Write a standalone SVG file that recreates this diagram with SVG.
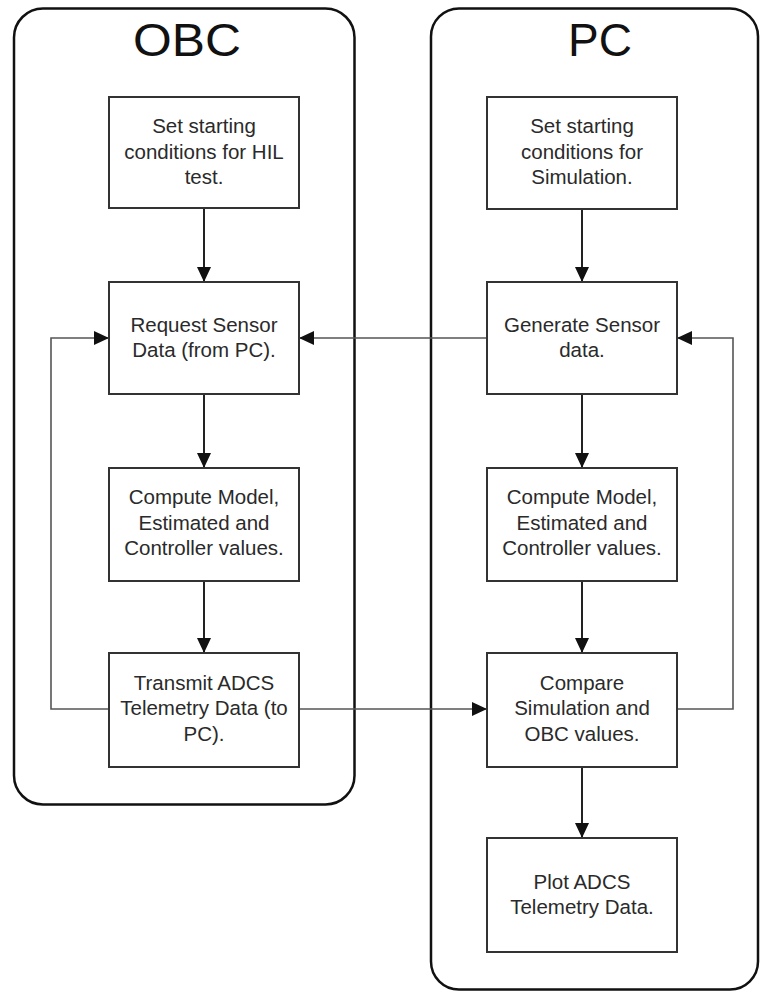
<svg xmlns="http://www.w3.org/2000/svg" width="760" height="992" viewBox="0 0 760 992">
  <defs>
    <marker id="arrow" viewBox="0 0 15 14" refX="15" refY="7" markerWidth="15" markerHeight="14" markerUnits="userSpaceOnUse" orient="auto">
      <path d="M0,0 L15,7 L0,14 z" fill="#111"/>
    </marker>
  </defs>
  <style>
    .lane { fill: #fff; stroke: #111; stroke-width: 2.5; }
    .title { font-family: "Liberation Sans", Arial, sans-serif; font-size: 46px; fill: #111; text-anchor: middle; }
    .box { fill: #fff; stroke: #333; stroke-width: 2; }
    .label { font-family: "Liberation Sans", Arial, sans-serif; font-size: 20.5px; fill: #2a2a2a; text-anchor: middle; }
    .flow { fill: none; stroke: #222; stroke-width: 2; marker-end: url(#arrow); }
    .link { fill: none; stroke: #555; stroke-width: 1.6; marker-end: url(#arrow); }
  </style>

  <rect width="760" height="992" fill="#fff"/>

  <!-- swimlanes -->
  <g id="lane-obc">
    <rect class="lane" x="14" y="8.5" width="340.5" height="796" rx="29" ry="29"/>
    <text class="title" x="187" y="56" textLength="108" lengthAdjust="spacingAndGlyphs">OBC</text>
  </g>
  <g id="lane-pc">
    <rect class="lane" x="431" y="8.5" width="327" height="981" rx="28" ry="28"/>
    <text class="title" x="600" y="56">PC</text>
  </g>

  <!-- connectors -->
  <g id="connectors">
    <path class="flow" d="M204,208 V282"/>
    <path class="flow" d="M204,394 V468"/>
    <path class="flow" d="M204,581 V653"/>
    <path class="flow" d="M582,209 V282"/>
    <path class="flow" d="M582,394 V468"/>
    <path class="flow" d="M582,581 V653"/>
    <path class="flow" d="M582,767 V838"/>
    <path class="link" d="M487,338 H299"/>
    <path class="link" d="M109,709 H51 V338 H109"/>
    <path class="link" d="M299,709 H487"/>
    <path class="link" d="M677,709 H733 V338 H677"/>
  </g>

  <!-- OBC steps -->
  <g id="obc-setup">
    <rect class="box" x="109" y="97" width="190" height="111"/>
    <text class="label" x="204" y="133">Set starting</text>
    <text class="label" x="204" y="159">conditions for HIL</text>
    <text class="label" x="204" y="184">test.</text>
  </g>
  <g id="obc-request">
    <rect class="box" x="109" y="282" width="190" height="112"/>
    <text class="label" x="204" y="332">Request Sensor</text>
    <text class="label" x="204" y="357">Data (from PC).</text>
  </g>
  <g id="obc-compute">
    <rect class="box" x="109" y="468" width="190" height="113"/>
    <text class="label" x="204" y="504">Compute Model,</text>
    <text class="label" x="204" y="530">Estimated and</text>
    <text class="label" x="204" y="555">Controller values.</text>
  </g>
  <g id="obc-transmit">
    <rect class="box" x="109" y="653" width="190" height="114"/>
    <text class="label" x="204" y="689.5">Transmit ADCS</text>
    <text class="label" x="204" y="715">Telemetry Data (to</text>
    <text class="label" x="204" y="741">PC).</text>
  </g>

  <!-- PC steps -->
  <g id="pc-setup">
    <rect class="box" x="487" y="97" width="190" height="112"/>
    <text class="label" x="582" y="133">Set starting</text>
    <text class="label" x="582" y="159">conditions for</text>
    <text class="label" x="582" y="184">Simulation.</text>
  </g>
  <g id="pc-generate">
    <rect class="box" x="487" y="282" width="190" height="112"/>
    <text class="label" x="582" y="332">Generate Sensor</text>
    <text class="label" x="582" y="357">data.</text>
  </g>
  <g id="pc-compute">
    <rect class="box" x="487" y="468" width="190" height="113"/>
    <text class="label" x="582" y="504">Compute Model,</text>
    <text class="label" x="582" y="530">Estimated and</text>
    <text class="label" x="582" y="555">Controller values.</text>
  </g>
  <g id="pc-compare">
    <rect class="box" x="487" y="653" width="190" height="114"/>
    <text class="label" x="582" y="689.5">Compare</text>
    <text class="label" x="582" y="715">Simulation and</text>
    <text class="label" x="582" y="741">OBC values.</text>
  </g>
  <g id="pc-plot">
    <rect class="box" x="487" y="838" width="190" height="114"/>
    <text class="label" x="582" y="888.5">Plot ADCS</text>
    <text class="label" x="582" y="914">Telemetry Data.</text>
  </g>
</svg>
